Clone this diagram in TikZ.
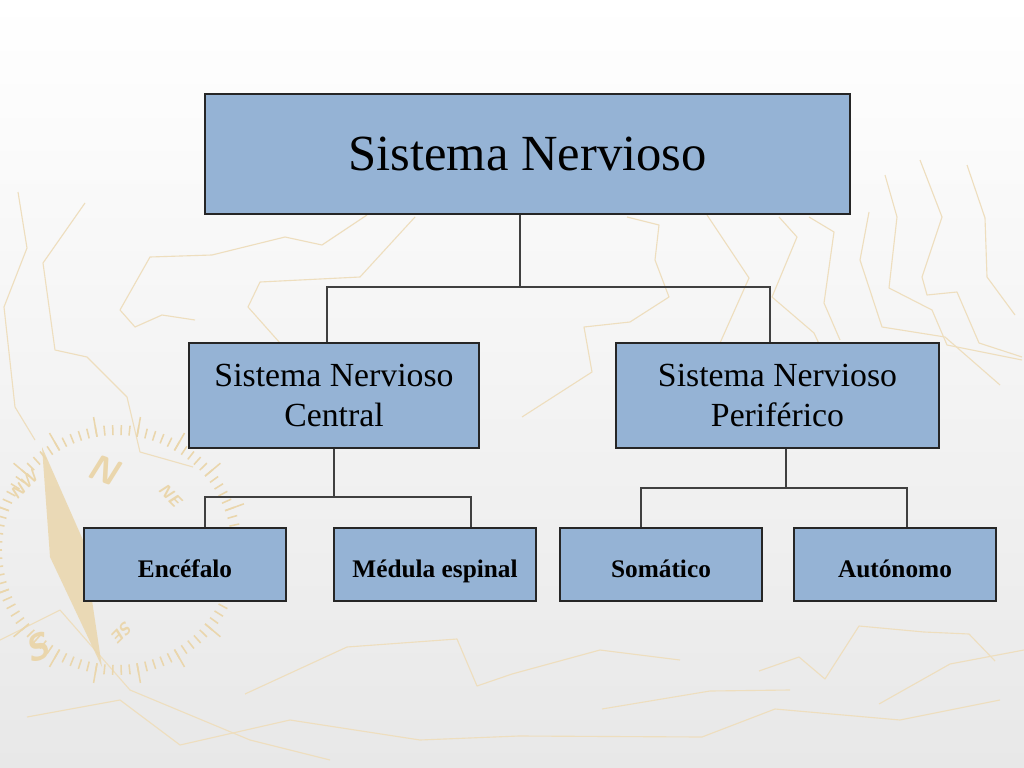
\documentclass[tikz,border=0pt]{standalone}
\usepackage{fontspec}
\setmainfont{Liberation Serif}
\usepackage{tikz}

\definecolor{boxblue}{RGB}{149,179,213}
\definecolor{mapline}{RGB}{238,222,190}
\definecolor{compass}{RGB}{234,214,172}

\begin{document}
\begin{tikzpicture}[x=0.025cm, y=-0.025cm,
	box/.style={draw=black!85, line width=0.9pt, fill=boxblue, align=center, inner sep=0pt},
	bigbox/.style={box, minimum width=16.125cm, minimum height=3cm, font=\fontsize{36}{40}\selectfont},
	midbox/.style={box, minimum height=2.625cm, font=\fontsize{24}{29}\selectfont},
	leafbox/.style={box, minimum width=5.05cm, minimum height=1.825cm, text height=18pt, text depth=0pt, font=\fontsize{18}{20}\selectfont\bfseries},
	link/.style={draw=black!75, line width=0.9pt},
	map/.style={draw=mapline, line width=0.8pt, line join=round},
	rose/.style={text=compass, inner sep=0pt}]
	\shade[top color=white, bottom color=black!9] (0,0) rectangle (1024,768);
	\useasboundingbox (0,0) rectangle (1024,768);
	%%
	\draw[map] (18,192) -- (27,248) -- (4,307) -- (15,407) -- (35,440);
	\draw[map] (85,203) -- (43,263) -- (55,350) -- (87,357) -- (127,397) -- (140,452) -- (193,467);
	\draw[map] (195,320) -- (162,315) -- (135,327) -- (120,310) -- (150,257) -- (212,255) -- (285,237) -- (322,245) -- (367,215);
	\draw[map] (415,217) -- (360,277) -- (260,282) -- (248,307) -- (280,343) -- (300,370);
	\draw[map] (627,217) -- (659,225) -- (655,260) -- (669,297) -- (630,322) -- (584,327) -- (592,372) -- (522,417);
	\draw[map] (707,215) -- (749,278) -- (720,343);
	\draw[map] (779,217) -- (797,237) -- (772,297) -- (814,333) -- (842,393);
	\draw[map] (809,217) -- (834,232) -- (824,303) -- (840,340);
	\draw[map] (869,212) -- (860,260) -- (882,327) -- (945,337) -- (1000,385);
	\draw[map] (885,175) -- (897,217) -- (889,288) -- (932,310) -- (947,345) -- (1022,360);
	\draw[map] (920,160) -- (942,217) -- (922,277) -- (927,295) -- (957,292) -- (979,343) -- (1022,357);
	\draw[map] (967,165) -- (985,218) -- (987,277) -- (1015,315);
	%%
	\draw[map] (245,694) -- (347,647) -- (457,639) -- (477,686) -- (512,674) -- (600,650) -- (680,660);
	\draw[map] (759,671) -- (799,657) -- (825,679) -- (859,626) -- (924,632) -- (969,634) -- (995,661);
	\draw[map] (879,704) -- (950,664) -- (1024,650);
	\draw[map] (27,717) -- (120,700) -- (180,745) -- (290,720) -- (420,740) -- (519,736) -- (702,737) -- (775,709) -- (900,720) -- (1000,700);
	\draw[map] (0,640) -- (60,610) -- (130,690) -- (250,740) -- (330,760);
	\draw[map] (602,709) -- (710,691) -- (790,690);
	%%
	\foreach \a in {0,4,...,356}
		\draw[compass, line width=1.1pt] (117,550) ++(\a:115) -- ++(\a:10);
	\foreach \a in {0,20,...,340}
		\draw[compass, line width=1.1pt] (117,550) ++(\a:115) -- ++(\a:20);
	\fill[compass, opacity=0.85] (42,447) -- (83,540) -- (102,667) -- (50,557) -- cycle;
	\node[rose, font=\sffamily\bfseries\itshape\fontsize{26}{26}\selectfont, rotate=-20] (rn) at (103,470) {N};
	\node[rose, font=\sffamily\bfseries\itshape\fontsize{12}{12}\selectfont, rotate=-45] (rne) at (170,495) {NE};
	\node[rose, font=\sffamily\bfseries\itshape\fontsize{12}{12}\selectfont, rotate=45] (rnw) at (24,485) {NW};
	\node[rose, font=\sffamily\bfseries\itshape\fontsize{26}{26}\selectfont, rotate=20] (rs) at (37,648) {S};
	\node[rose, font=\sffamily\bfseries\itshape\fontsize{12}{12}\selectfont, rotate=-135] (rse) at (122,632) {SE};
	%%
	\node[bigbox] (sn) at (527.5,154) {Sistema Nervioso};
	\node[midbox, minimum width=7.25cm] (snc) at (334,395.5) {Sistema Nervioso\\Central};
	\node[midbox, minimum width=8.075cm] (snp) at (777.5,395.5) {Sistema Nervioso\\Periférico};
	\node[leafbox] (enc) at (185,564.5) {Encéfalo};
	\node[leafbox] (med) at (435,564.5) {Médula espinal};
	\node[leafbox] (som) at (661,564.5) {Somático};
	\node[leafbox] (aut) at (895,564.5) {Autónomo};
	%%
	\draw[link] (sn.south -| 520,0) -- (520,287) coordinate (j1);
	\draw[link] (snc.north -| 327,0) |- (j1) -| (snp.north -| 770,0);
	\draw[link] (snc.south) -- (334,497) coordinate (j2);
	\draw[link] (enc.north -| 205,0) |- (j2) -| (med.north -| 471,0);
	\draw[link] (snp.south -| 786,0) -- (786,488) coordinate (j3);
	\draw[link] (som.north -| 641,0) |- (j3) -| (aut.north -| 907,0);
\end{tikzpicture}
\end{document}
